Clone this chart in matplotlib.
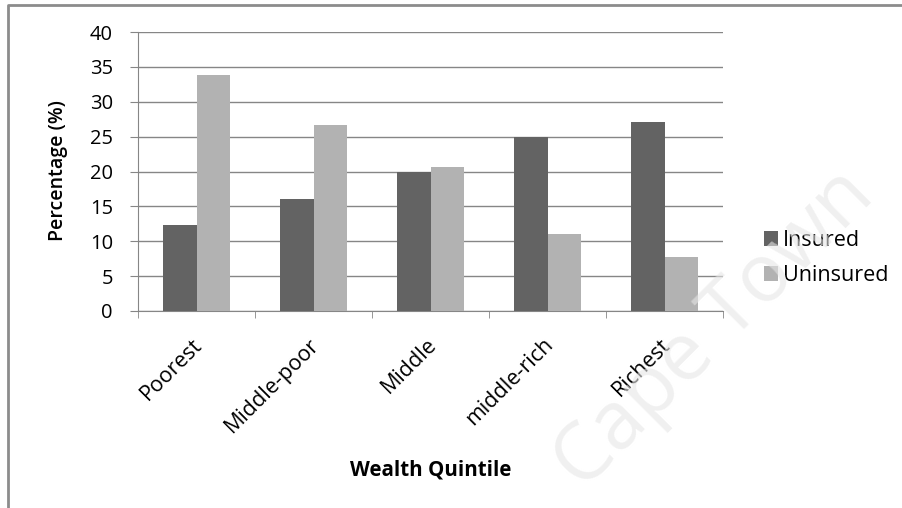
import matplotlib
matplotlib.use("Agg")
import matplotlib.pyplot as plt
import matplotlib.transforms as mtransforms
from matplotlib.lines import Line2D
import numpy as np

plt.rcParams['font.family'] = ['Open Sans', 'DejaVu Sans']

# data
quintiles = ["Poorest", "Middle-poor", "Middle", "middle-rich", "Richest"]
insured = [12.4, 16.0, 20.0, 25.0, 27.1]
uninsured = [33.8, 26.6, 20.7, 11.1, 7.8]
yticks = [0, 5, 10, 15, 20, 25, 30, 35, 40]

W, H = 902, 508
fig = plt.figure(figsize=(W / 100, H / 100), dpi=100)
ax = fig.add_axes([138 / W, 1 - 311 / H, (723 - 138) / W, (311 - 32) / H])

x = np.arange(len(quintiles))
bw = 0.29
ax.bar(x - bw / 2, insured, bw, color="#636363", label="Insured", zorder=3)
ax.bar(x + bw / 2, uninsured, bw, color="#b2b2b2", label="Uninsured", zorder=3)

grid_col = "#868686"
ax.set_xlim(-0.5, len(quintiles) - 0.5)
ax.set_ylim(0, 40)
ax.set_yticks(yticks)
ax.grid(axis="y", color=grid_col, lw=1, zorder=0)
for s in ["top", "right"]:
    ax.spines[s].set_visible(False)
for s in ["left", "bottom"]:
    ax.spines[s].set_color(grid_col)
ax.tick_params(axis="y", length=6, color=grid_col, labelsize=14.5, pad=12)

# category labels at centres, tick marks between categories
ax.set_xticks(x)
ax.set_xticklabels(quintiles, rotation=45, ha="right", va="center",
                   rotation_mode="anchor", fontsize=15.5)
ax.tick_params(axis="x", which="major", length=0, pad=22)
ax.set_xticks(np.arange(-0.5, len(quintiles)), minor=True)
ax.tick_params(axis="x", which="minor", length=5, color=grid_col)
shift = mtransforms.ScaledTranslation(3 / 100, 0, fig.dpi_scale_trans)
for lab in ax.get_xticklabels():
    lab.set_transform(lab.get_transform() + shift)

fig.text(431 / W, 1 - 470 / H, "Wealth Quintile", ha="center", va="center",
         fontsize=14.8, fontweight="bold")
fig.text(58 / W, 1 - 171 / H, "Percentage (%)", ha="center", va="center",
         rotation=90, fontsize=14, fontweight="semibold")

ax.legend(loc="center left", bbox_to_anchor=(745 / W, 1 - 258 / H),
          bbox_transform=fig.transFigure, frameon=False, fontsize=15.5,
          handlelength=0.65, handleheight=0.65, handletextpad=0.2,
          labelspacing=0.65)

# chart frame
fig.add_artist(Line2D([8 / W, 8 / W, 1], [0, 1 - 5 / H, 1 - 5 / H],
                      color="#8c8c8c", lw=2))

# watermark
fig.text(714 / W, 1 - 330 / H, "Cape Town", rotation=45, ha="center",
         va="center", fontsize=58, color="#e6e6e6", alpha=0.6, zorder=10)

fig.savefig("out.png", dpi=100)
